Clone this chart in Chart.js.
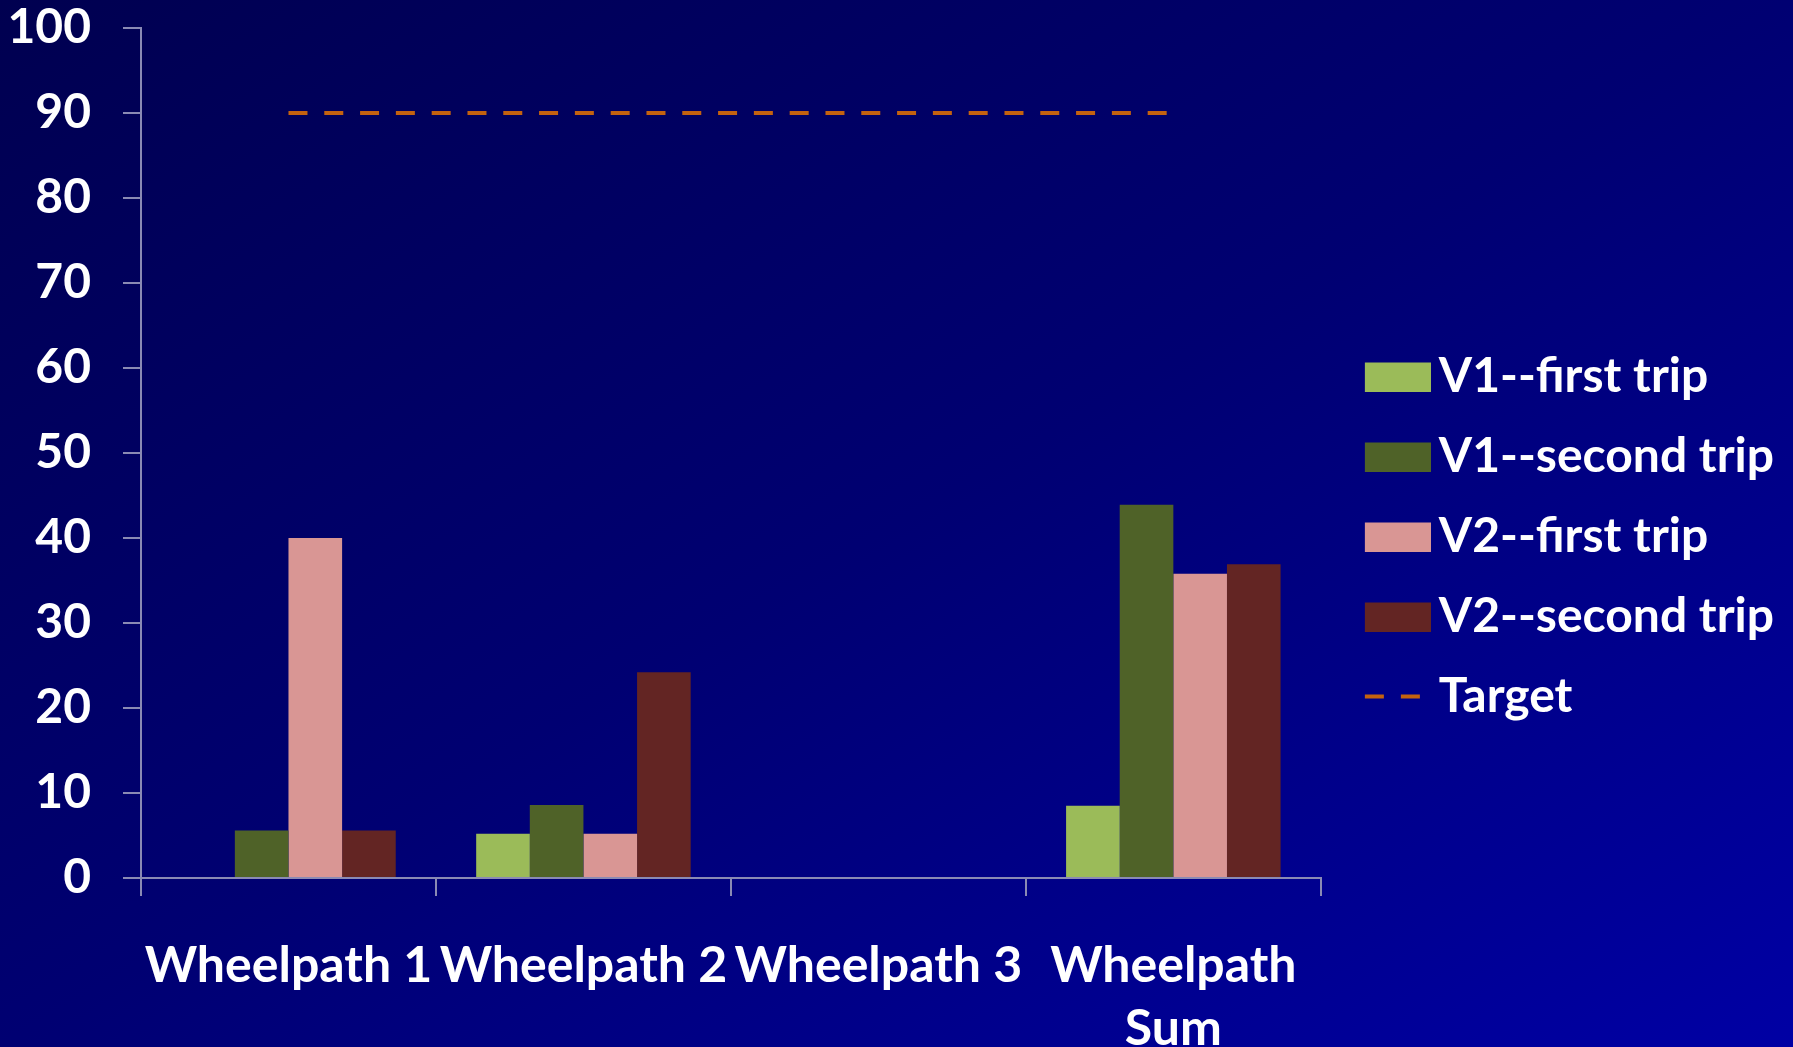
<!DOCTYPE html>
<html>
<head>
<meta charset="utf-8">
<title>Wheelpath trips</title>
<script src="https://cdn.jsdelivr.net/npm/chart.js@4.4.1/dist/chart.umd.min.js"></script>
<style>
  html, body { margin: 0; padding: 0; }
  body {
    width: 1793px;
    height: 1047px;
    overflow: hidden;
    background: linear-gradient(to bottom right, #000050 0%, #000072 50%, #0000a4 100%);
  }
  #wrap { position: relative; width: 1793px; height: 1047px; }
</style>
</head>
<body>
<div id="wrap"><canvas id="wheelpath-chart"></canvas></div>
<script>
// categories along the x axis ("Wheelpath Sum" wraps onto two lines)
const categories = ["Wheelpath 1", "Wheelpath 2", "Wheelpath 3", ["Wheelpath", "Sum"]];

const v1First = [0, 5.2, 0, 8.5];
const v1Second = [5.6, 8.6, 0, 43.9];
const v2First = [40, 5.2, 0, 35.8];
const v2Second = [5.6, 24.2, 0, 36.9];
const target = [90, 90, 90, 90];

const yTicks = [0, 10, 20, 30, 40, 50, 60, 70, 80, 90, 100];

const axisGray = "#8a8ab4";

// legend swatches: bars get a filled box, the target line gets two dashes
function makeSwatch(color, dashed) {
  const c = document.createElement("canvas");
  c.width = 94;
  c.height = 30;
  const g = c.getContext("2d");
  if (dashed) {
    g.strokeStyle = color;
    g.lineWidth = 4;
    g.setLineDash([19, 17]);
    g.beginPath();
    g.moveTo(28, 15);
    g.lineTo(83, 15);
    g.stroke();
  } else {
    g.fillStyle = color;
    g.fillRect(28, 1, 66, 29);
  }
  return c;
}

const barOpts = { barPercentage: 1, categoryPercentage: 4 / 5.5, borderWidth: 0 };

const datasets = [
  { label: "V1--first trip", data: v1First, backgroundColor: "#9bbb59", ...barOpts },
  { label: "V1--second trip", data: v1Second, backgroundColor: "#4f6228", ...barOpts },
  { label: "V2--first trip", data: v2First, backgroundColor: "#d99694", ...barOpts },
  { label: "V2--second trip", data: v2Second, backgroundColor: "#632523", ...barOpts },
  {
    type: "line",
    label: "Target",
    data: target,
    borderColor: "#c4620f",
    backgroundColor: "#c4620f",
    borderWidth: 4,
    borderDash: [19, 16.8],
    pointRadius: 0,
    fill: false
  }
];

const swatches = datasets.map(ds => makeSwatch(ds.type === "line" ? ds.borderColor : ds.backgroundColor, ds.type === "line"));

function draw() {
  new Chart(document.getElementById("wheelpath-chart"), {
    type: "bar",
    data: { labels: categories, datasets: datasets },
    options: {
      responsive: true,
      maintainAspectRatio: false,
      animation: false,
      // side boxes are capped at a quarter of the usable width; the negative left
      // padding widens that cap so the legend text fits, and the y axis absorbs it
      layout: { padding: { left: -99, right: 9, top: 0, bottom: -26 } },
      plugins: {
        tooltip: { enabled: false },
        legend: {
          position: "right",
          labels: {
            color: "#ffffff",
            font: { family: "Lato", weight: "bold", size: 48 },
            usePointStyle: true,
            pointStyleWidth: 62,
            padding: 32,
            generateLabels(chart) {
              const items = Chart.defaults.plugins.legend.labels.generateLabels(chart);
              items.forEach(it => { it.pointStyle = swatches[it.datasetIndex]; });
              return items;
            }
          }
        }
      },
      scales: {
        x: {
          grid: { offset: true, drawOnChartArea: false, tickLength: 18, color: axisGray, lineWidth: 2 },
          border: { color: axisGray, width: 2 },
          ticks: {
            color: "#ffffff",
            font: { family: "Lato", weight: "bold", size: 50, lineHeight: 1.26 },
            padding: 38,
            maxRotation: 0,
            autoSkip: false
          },
          afterFit(scale) { scale.height = 195; }
        },
        y: {
          min: 0,
          max: 100,
          grid: { drawOnChartArea: false, tickLength: 18, color: axisGray, lineWidth: 2 },
          border: { color: axisGray, width: 2 },
          ticks: { color: "#ffffff", font: { family: "Lato", weight: "bold", size: 48 }, padding: 32 },
          afterBuildTicks(scale) { scale.ticks = yTicks.map(v => ({ value: v })); },
          afterFit(scale) {
            scale.width = 240;
            scale.paddingTop = 28;
          }
        }
      }
    }
  });
}

// make sure Lato is ready before the legend measures its text
Promise.all([
  document.fonts.load("bold 48px Lato"),
  document.fonts.load("bold 50px Lato")
]).then(draw, draw);
</script>
</body>
</html>
